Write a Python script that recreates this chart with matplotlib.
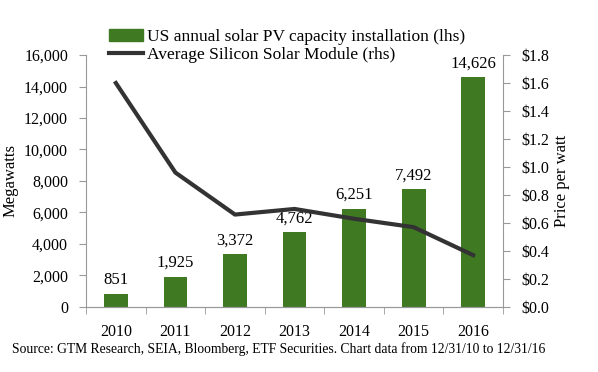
import matplotlib.pyplot as plt
from matplotlib.patches import Patch
from matplotlib.lines import Line2D

# ============================================
# DATA
# ============================================

years = ["2010", "2011", "2012", "2013", "2014", "2015", "2016"]
capacity_mw = [851, 1925, 3372, 4762, 6251, 7492, 14626]
module_price = [1.60, 0.96, 0.66, 0.70, 0.63, 0.57, 0.37]

bar_color = "#3f7a22"
line_color = "#333333"
spine_color = "#999999"

plt.rcParams["font.family"] = ["Liberation Serif", "DejaVu Serif"]

# ============================================
# PLOT
# ============================================

fig = plt.figure(figsize=(5.98, 3.72), dpi=100)
ax = fig.add_axes([0.144, 0.175, 0.697, 0.677])
ax2 = ax.twinx()

x = list(range(len(years)))
ax.bar(x, capacity_mw, width=0.4, color=bar_color, zorder=2)
ax2.plot(x, module_price, color=line_color, linewidth=3, zorder=3)

for xi, v in zip(x, capacity_mw):
    ax.text(xi, v + 350, f"{v:,}", ha="center", va="bottom", fontsize=12)

ax.set_xlim(-0.5, 6.5)
ax.set_ylim(0, 16000)
ax2.set_ylim(0, 1.8)

ax.set_yticks(range(0, 16001, 2000))
ax.set_yticklabels([f"{v:,}" for v in range(0, 16001, 2000)], fontsize=11.5)
ax2.set_yticks([i * 0.2 for i in range(10)])
ax2.set_yticklabels([f"${i * 0.2:.1f}" for i in range(10)], fontsize=11.5)

ax.set_xticks(x)
ax.set_xticklabels(years, fontsize=11.5)
ax.tick_params(axis="x", length=0, pad=12)
ax.set_xticks([i - 0.5 for i in range(len(years) + 1)], minor=True)
ax.tick_params(axis="x", which="minor", length=5, color=spine_color)
ax.tick_params(axis="y", length=5, color=spine_color, pad=8)
ax2.tick_params(axis="y", length=5, color=spine_color, pad=8)

ax.set_ylabel("Megawatts", fontsize=12)
ax2.set_ylabel("Price per watt", fontsize=12)

for a in (ax, ax2):
    a.spines["top"].set_visible(False)
    a.spines["left"].set_color(spine_color)
    a.spines["right"].set_color(spine_color)
    a.spines["bottom"].set_color(spine_color)
ax2.spines["left"].set_visible(False)
ax.spines["right"].set_visible(False)

handles = [
    Patch(color=bar_color),
    Line2D([0], [0], color=line_color, linewidth=3),
]
labels = [
    "US annual solar PV capacity installation (lhs)",
    "Average Silicon Solar Module (rhs)",
]
fig.legend(handles, labels, loc="upper left", bbox_to_anchor=(0.17, 0.94),
           frameon=False, fontsize=12.5, handlelength=2.0, handletextpad=0.2,
           labelspacing=0.1, borderaxespad=0)

fig.text(0.02, 0.05,
         "Source: GTM Research, SEIA, Bloomberg, ETF Securities. Chart data from 12/31/10 to 12/31/16",
         fontsize=9.8)

plt.savefig("out.png", dpi=100)
plt.close()
